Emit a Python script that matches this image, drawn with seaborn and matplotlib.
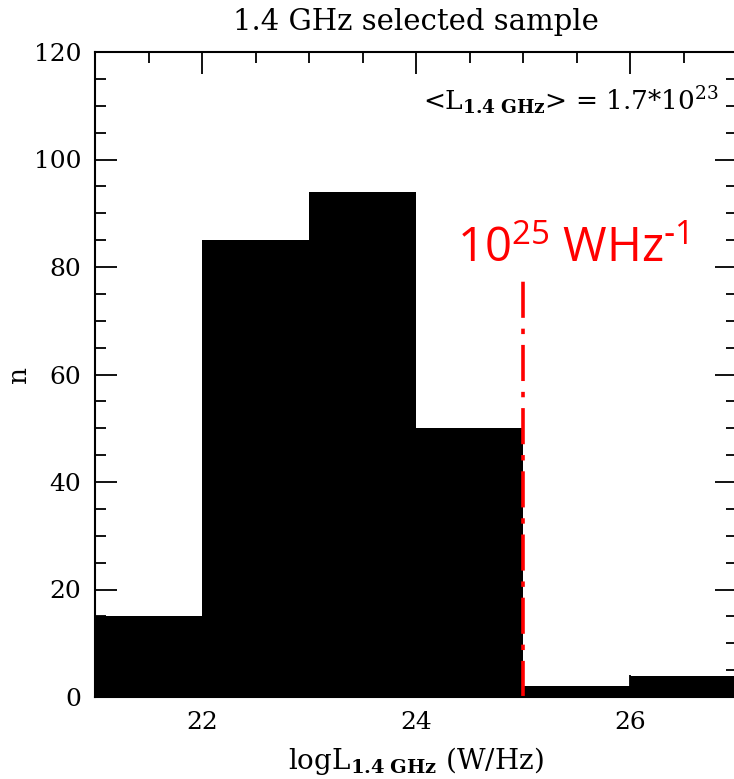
import matplotlib
matplotlib.use('Agg')
import matplotlib.pyplot as plt
import seaborn as sns
import numpy as np
import pandas as pd
from matplotlib.ticker import MultipleLocator

# histogram counts per 1-dex bin of log L(1.4 GHz)
bin_edges = [21, 22, 23, 24, 25, 26, 27]
bin_centers = [21.5, 22.5, 23.5, 24.5, 25.5, 26.5]
counts = [15, 85, 94, 50, 2, 4]

cut_value = 25
cut_top = 78.5

df = pd.DataFrame({'logL': bin_centers, 'n': counts})

sns.set_style('ticks')
plt.rcParams['font.family'] = ['DejaVu Serif']
plt.rcParams['mathtext.fontset'] = 'dejavuserif'
plt.rcParams['text.color'] = 'black'
plt.rcParams['axes.labelcolor'] = 'black'
plt.rcParams['xtick.color'] = 'black'
plt.rcParams['ytick.color'] = 'black'
plt.rcParams['axes.edgecolor'] = 'black'

fig = plt.figure(figsize=(7.34, 7.79), dpi=100)
ax = fig.add_axes([95 / 734, (779 - 697) / 779, (737 - 95) / 734, (697 - 52) / 779])

sns.histplot(data=df, x='logL', weights='n', bins=bin_edges, stat='count',
             color='black', edgecolor='black', alpha=1, linewidth=0, ax=ax)

# cut line at 10^25 W/Hz
ax.plot([cut_value, cut_value], [0, cut_top], color='#ff0000', lw=2.6,
        dashes=(10, 3, 1.5, 3))
ax.text(24.38, 81, r'10$^{\mathregular{25}}$ WHz$^{\text{-}\mathregular{1}}$',
        color='#ff0000', fontsize=34, family='Open Sans',
        ha='left', va='baseline')

ax.text(26.83, 111, r'<L$_{\mathbf{1.4\ GHz}}$> = 1.7*10$^{23}$', fontsize=19,
        ha='right', va='center')

ax.set_xlim(21, 27.0)
ax.set_ylim(0, 120)
ax.xaxis.set_major_locator(MultipleLocator(2))
ax.xaxis.set_minor_locator(MultipleLocator(0.5))
ax.yaxis.set_major_locator(MultipleLocator(20))
ax.yaxis.set_minor_locator(MultipleLocator(5))
ax.tick_params(which='both', direction='in', top=True, right=True,
               labelsize=18, width=1.3, pad=10)
ax.tick_params(which='major', length=16)
ax.tick_params(which='minor', length=8)
for s in ax.spines.values():
    s.set_linewidth(1.5)

ax.set_xlabel(r'logL$_{\mathbf{1.4\ GHz}}$ (W/Hz)', fontsize=20, labelpad=8)
ax.set_ylabel('n', fontsize=19)
ax.yaxis.set_label_coords(-0.1, 0.5)
ax.set_title('1.4 GHz selected sample', fontsize=21, pad=16)

plt.savefig('out.png', dpi=100)
